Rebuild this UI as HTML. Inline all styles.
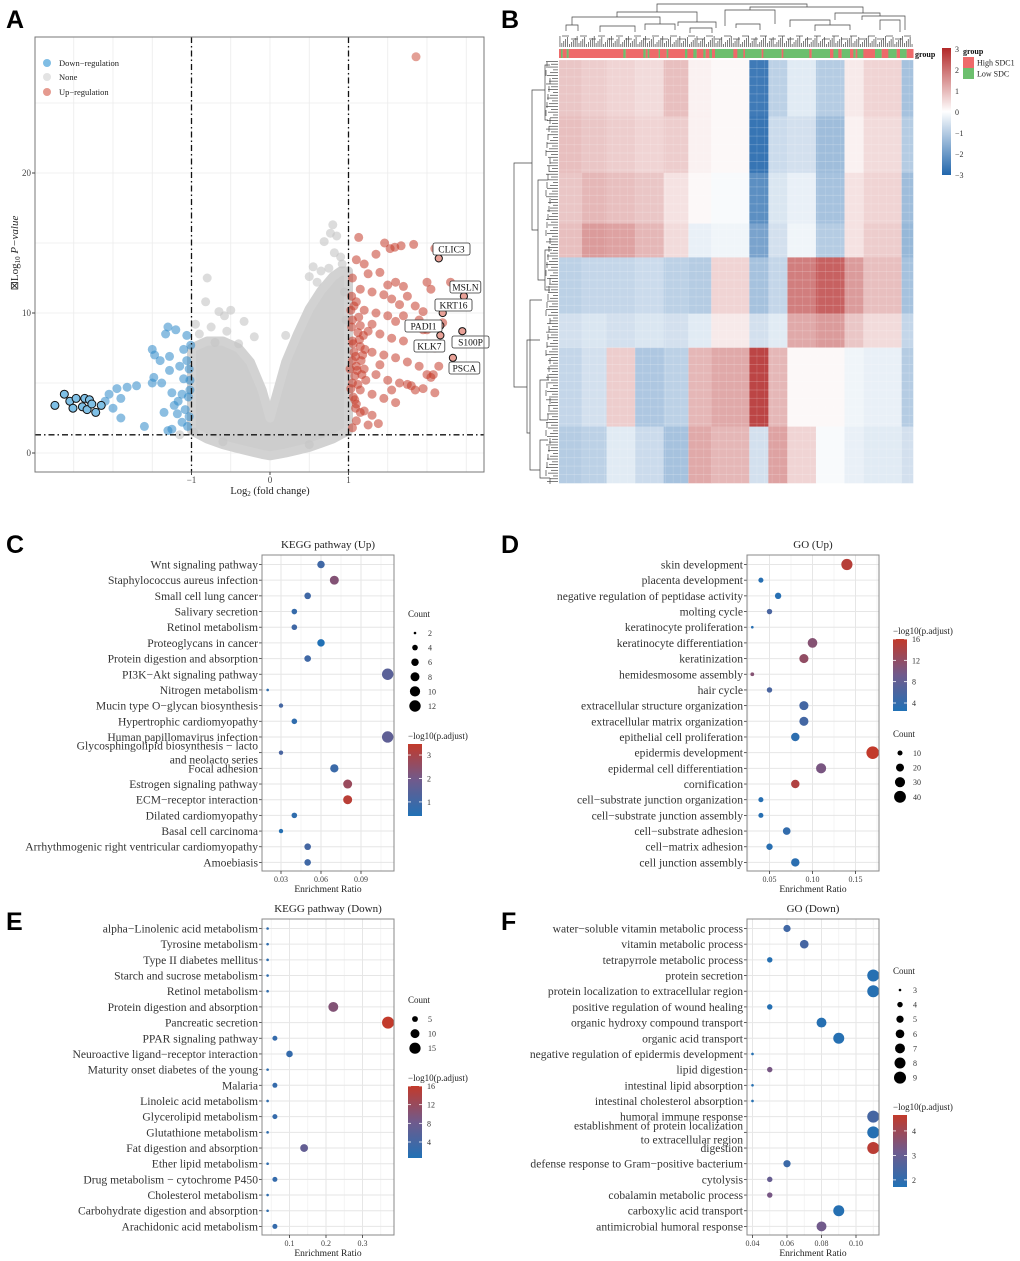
<!DOCTYPE html>
<html><head><meta charset="utf-8">
<style>
html,body{margin:0;padding:0;background:#fff;}
svg{display:block;font-family:"Liberation Serif",serif;}
.pl{font-family:"Liberation Sans",sans-serif;font-weight:bold;font-size:25px;fill:#000;}
</style></head>
<body>
<svg id="fig" width="1020" height="1261" viewBox="0 0 1020 1261" xmlns="http://www.w3.org/2000/svg">
<rect width="1020" height="1261" fill="#fff"/>
<text class="pl" x="6" y="28">A</text>
<text class="pl" x="501" y="28">B</text>
<text class="pl" x="6" y="553">C</text>
<text class="pl" x="501" y="553">D</text>
<text class="pl" x="6" y="930">E</text>
<text class="pl" x="501" y="930">F</text>
<g id="gA"></g>
<g id="gB"></g>
<g id="gC"></g>
<g id="gD"></g>
<g id="gE"></g>
<g id="gF"></g>
</svg>
<script>
// ---------- DATA ----------
const volcRedX=[1.13,1.46,1.59,1.67,1.53,1.35,1.1,1.2,1.25,1.4,1.5,1.6,1.7,1.05,1.15,1.3,1.45,1.55,1.65,1.75,1.85,1.95,2.05,1.1,1.2,1.35,1.5,1.6,1.8,1.9,2.0,1.05,1.15,1.25,1.4,1.55,1.7,1.05,1.15,1.3,1.45,1.6,1.75,1.9,2.15,2.0,1.05,1.2,1.35,1.5,1.65,1.8,1.95,2.1,1.05,1.15,1.3,1.45,1.6,1.1,1.2,1.3,1.1,1.25,1.05,1.38,1.07,1.1,1.08,1.12,1.18,1.22,1.06,1.3,1.4,1.55,1.7,2.0,1.83,2.1,2.3,2.08,1.95,2.2,2.1,1.85,2.05,1.75,1.03,1.04,1.06,1.09,1.11,1.14,1.16,1.03,1.08,1.12,1.17,1.21,1.04,1.07,1.13,1.19,1.02,1.09,1.15,1.86];
const volcRedY=[15.4,15,14.7,14.8,14.6,14.2,13.8,13.5,12.8,12.9,12,12.2,11.9,12.5,11.7,11.5,11.3,11,10.6,11.2,10.5,10.1,11.7,10.8,10.2,10,9.8,9.4,9,9.5,8.8,9.5,9.1,8.7,8.5,8.2,8,8,7.6,7.2,7,6.8,6.5,6.2,6.2,5.6,6.6,6,5.6,5.2,5,4.8,4.6,4.3,5,4.5,4.2,3.9,3.6,3.5,3,2.7,2.3,2,1.8,2.1,7.2,6.2,5.5,8.6,7,5.2,4,9.2,6.3,4.5,9.8,12.2,14.9,14.6,12.2,5.6,8.8,9.3,7.5,4.5,5.4,4.9,10.2,9.0,7.8,6.9,5.9,8.1,6.6,4.6,3.8,4.9,5.6,7.4,11.2,10.5,9.7,8.4,6.0,3.2,2.9,28.3];
const volcBlueX=[-2.1,-2.05,-2,-1.95,-1.9,-1.9,-1.82,-1.7,-1.6,-1.5,-1.5,-1.48,-1.47,-1.4,-1.38,-1.33,-1.3,-1.28,-1.28,-1.25,-1.22,-1.2,-1.18,-1.15,-1.12,-1.1,-1.1,-1.08,-1.06,-1.05,-1.03,-1.02,-1.01,-1.25,-1.17,-1.12,-1.35,-1.3,-1.02,-1.04,-1.06,-1.03];
const volcBlueY=[3.7,4.2,3.2,4.6,2.5,3.9,4.7,4.8,1.9,5,7.4,5.4,7,6.6,5,8.5,9,6.9,5.9,4.3,3.4,8.8,2.8,6.2,4.2,7.4,5.3,3.1,8.4,1.9,6,4.5,7.7,1.7,3.7,2.2,2.9,1.6,5.2,4.0,6.6,2.6];
const volcOutlineX=[-2.74,-2.62,-2.55,-2.51,-2.47,-2.39,-2.36,-2.33,-2.3,-2.27,-2.22,-2.15];
const volcOutlineY=[3.4,4.2,3.7,3.2,3.9,3.3,3.9,3.1,3.8,3.5,2.9,3.4];
const volcGrayX=[-0.8,-0.82,-0.65,-0.58,-0.5,-0.33,-0.95,-0.75,-0.2,-0.4,-0.55,0.2,0.8,0.77,0.69,0.85,0.82,0.9,0.55,0.65,0.75,0.5,0.6,0.92,-0.97,-0.6,0.5,-1.15,-0.9,-0.7,0.95,0.97];
const volcGrayY=[12.5,10.8,10.1,9.8,10.2,9.4,9.2,9,8.3,7.8,8.7,8.4,16.3,15.7,15.1,15.5,14.3,14,13.3,13,13.2,12.6,12.2,13.5,1.5,0.8,0.6,1.3,8.5,7.9,11.5,9.5];
const envX=[-1,-0.8,-0.6,-0.4,-0.25,-0.1,0,0.1,0.2,0.35,0.5,0.65,0.8,0.9,1];
const envTop=[7.5,8.0,8.0,7.5,6.5,4.5,2.5,4.5,6.5,8.5,10.3,11.6,12.6,13.0,13.0];
const envBot=[1.6,1.0,0.6,0.3,0.1,-0.1,-0.2,-0.1,0,0.2,0.4,0.7,1.0,1.3,1.6];
const geneLabels=["CLIC3","MSLN","KRT16","PADI1","KLK7","S100P","PSCA"];
const geneX=[2.15,2.47,2.2,2.17,2.17,2.45,2.33];
const geneY=[13.9,11.2,10.0,9.1,8.4,8.7,6.8];
const geneBoxX=[433,450,435,405,414,452,449];
const geneBoxY=[243,281,299,320,340,336,362];

// heatmap block data
const hmColBounds=[0,12,25,40,55,68,80,100,110,120,135,150,160,180,186];
const hmRowBounds=[0,20,40,58,70,90,102,130,150];
const hmValues=[
 [0.8,0.7,0.6,0.5,0.9,0.2,0.1,-2.6,-0.9,-0.4,-1.0,0.3,0.6,-1.2],
 [0.9,0.8,0.7,0.6,0.7,0.2,0.1,-2.7,-0.7,-0.6,-1.3,0.2,0.5,-1.0],
 [0.8,1.0,0.9,0.8,0.4,0.1,-0.1,-2.2,-0.5,-0.3,-1.2,0.4,0.6,-1.3],
 [0.9,1.4,1.3,1.0,0.5,-0.3,-0.2,-1.8,-0.6,-0.2,-1.0,0.4,0.7,-1.4],
 [-0.9,-0.8,-0.8,-0.7,-0.9,-1.0,0.6,-1.2,-0.8,1.8,2.2,1.4,0.9,-1.2],
 [-0.6,-0.5,-0.6,-0.5,-0.6,-0.4,0.3,-0.6,-0.4,1.2,1.4,0.8,0.5,-0.8],
 [-0.8,-0.6,0.7,-1.1,-0.9,1.0,1.2,2.6,1.0,0.1,0.1,-0.2,-0.3,-1.0],
 [-1.0,-0.9,-0.4,-0.7,-1.2,1.2,1.0,-0.6,1.3,0.6,-0.1,-0.3,-0.4,-0.6]
];
const grpBounds=[177,183,188,200,206,370,377,430,437,443,448,476,480,500,505,555,562,580,590,610,617,628,636,645,700,712,730,735,785,790,845,850,928,935,990,1000,1015,1025,1050,1060,1067,1072,1090,1125,1145,1165,1190,1200,1220,1240];
const hmTicks=[3,2,1,0,-1,-2,-3];

// dot plots
const cLabels=["Wnt signaling pathway","Staphylococcus aureus infection","Small cell lung cancer","Salivary secretion","Retinol metabolism","Proteoglycans in cancer","Protein digestion and absorption","PI3K−Akt signaling pathway","Nitrogen metabolism","Mucin type O−glycan biosynthesis","Hypertrophic cardiomyopathy","Human papillomavirus infection","Glycosphingolipid biosynthesis − lacto|and neolacto series","Focal adhesion","Estrogen signaling pathway","ECM−receptor interaction","Dilated cardiomyopathy","Basal cell carcinoma","Arrhythmogenic right ventricular cardiomyopathy","Amoebiasis"];
const cRatio=[0.06,0.07,0.05,0.04,0.04,0.06,0.05,0.11,0.02,0.03,0.04,0.11,0.03,0.07,0.08,0.08,0.04,0.03,0.05,0.05];
const cCount=[6,8,5,4,4,6,5,12,2,3,4,12,3,7,8,8,4,3,5,5];
const cP=[1.0,2.3,1.0,0.8,1.0,0.4,1.0,1.5,0.7,1.1,0.7,1.6,1.2,0.9,2.7,3.3,0.7,0.5,1.1,1.0];
const cTicks=[0.03,0.06,0.09];
const cSizeTicks=[2,4,6,8,10,12];
const cColorTicks=[3,2,1];

const dLabels=["skin development","placenta development","negative regulation of peptidase activity","molting cycle","keratinocyte proliferation","keratinocyte differentiation","keratinization","hemidesmosome assembly","hair cycle","extracellular structure organization","extracellular matrix organization","epithelial cell proliferation","epidermis development","epidermal cell differentiation","cornification","cell−substrate junction organization","cell−substrate junction assembly","cell−substrate adhesion","cell−matrix adhesion","cell junction assembly"];
const dRatio=[0.14,0.04,0.06,0.05,0.03,0.10,0.09,0.03,0.05,0.09,0.09,0.08,0.17,0.11,0.08,0.04,0.04,0.07,0.05,0.08];
const dCount=[36,10,14,11,5,28,25,7,11,25,25,22,45,30,22,10,10,19,14,22];
const dP=[15,3,3,6,3,11,12,11,6,5.5,5.5,3.5,16,10,14.5,3,3,4,3.2,3.3];
const dTicks=[0.05,0.10,0.15];
const dSizeTicks=[10,20,30,40];
const dColorTicks=[16,12,8,4];

const eLabels=["alpha−Linolenic acid metabolism","Tyrosine metabolism","Type II diabetes mellitus","Starch and sucrose metabolism","Retinol metabolism","Protein digestion and absorption","Pancreatic secretion","PPAR signaling pathway","Neuroactive ligand−receptor interaction","Maturity onset diabetes of the young","Malaria","Linoleic acid metabolism","Glycerolipid metabolism","Glutathione metabolism","Fat digestion and absorption","Ether lipid metabolism","Drug metabolism − cytochrome P450","Cholesterol metabolism","Carbohydrate digestion and absorption","Arachidonic acid metabolism"];
const eRatio=[0.04,0.04,0.04,0.04,0.04,0.22,0.37,0.06,0.10,0.04,0.06,0.04,0.06,0.04,0.14,0.04,0.06,0.04,0.04,0.06];
const eCount=[2,2,2,2,2,12,17,4,6,2,4,2,4,2,8,2,4,2,2,4];
const eP=[2,2,2,2,2,10,16,2.5,2.5,2,2.5,2,2.5,2,7,2,2.5,2,2,2.5];
const eTicks=[0.1,0.2,0.3];
const eSizeTicks=[5,10,15];
const eColorTicks=[16,12,8,4];

const fLabels=["water−soluble vitamin metabolic process","vitamin metabolic process","tetrapyrrole metabolic process","protein secretion","protein localization to extracellular region","positive regulation of wound healing","organic hydroxy compound transport","organic acid transport","negative regulation of epidermis development","lipid digestion","intestinal lipid absorption","intestinal cholesterol absorption","humoral immune response","establishment of protein localization|to extracellular region","digestion","defense response to Gram−positive bacterium","cytolysis","cobalamin metabolic process","carboxylic acid transport","antimicrobial humoral response"];
const fRatio=[0.06,0.07,0.05,0.11,0.11,0.05,0.08,0.09,0.04,0.05,0.04,0.04,0.11,0.11,0.11,0.06,0.05,0.05,0.09,0.08];
const fCount=[5,6,4,9,9,4,7,8,3,4,3,3,9,9,9,5,4,4,8,7];
const fP=[2.3,2.4,1.8,1.8,1.8,1.8,1.8,1.8,1.8,3.3,1.8,1.8,2.4,1.8,4.5,2.2,3.0,3.3,1.8,3.2];
const fTicks=[0.04,0.06,0.08,0.10];
const fSizeTicks=[3,4,5,6,7,8,9];
const fColorTicks=[4,3,2];

// ---------- HELPERS ----------
const NS="http://www.w3.org/2000/svg";
function mk(tag,attrs,parent){const e=document.createElementNS(NS,tag);for(const k in attrs)e.setAttribute(k,attrs[k]);parent.appendChild(e);return e;}
function txt(s,attrs,parent){const e=mk("text",attrs,parent);e.textContent=s;return e;}
function lerp(a,b,t){return a+(b-a)*t;}
function gradColor(t){t=Math.max(0,Math.min(1,t));const A=[33,113,181],M=[112,90,140],B=[194,58,43];let c;
 if(t<0.5){const u=t/0.5;c=A.map((v,i)=>Math.round(lerp(v,M[i],u)));}else{const u=(t-0.5)/0.5;c=M.map((v,i)=>Math.round(lerp(v,B[i],u)));}
 return "rgb("+c.join(",")+")";}
function hmColor(v){const t=Math.max(-3,Math.min(3,v))/3;const W=[255,255,255],Bl=[33,102,172],R=[178,40,40];
 const tgt=t<0?Bl:R;const u=Math.abs(t);return "rgb("+W.map((w,i)=>Math.round(lerp(w,tgt[i],u))).join(",")+")";}

// ---------- PANEL A : volcano ----------
(function(){
 const g=document.getElementById("gA");
 const L=35,R=484,T=37,B=472;
 const xs=v=>270+v*78.5, ys=v=>453-v*14;
 mk("rect",{x:L,y:T,width:R-L,height:B-T,fill:"#fff"},g);
 for(let v=-3;v<=3;v+=0.5){const x=xs(v);if(x<L||x>R)continue;const l=mk("line",{x1:x,x2:x,y1:T,y2:B,stroke:"#ececec","stroke-width":0.8},g);
  
  }
 for(let v=0;v<=30;v+=5){const y=ys(v);if(y<T)continue;const l=mk("line",{x1:L,x2:R,y1:y,y2:y,stroke:"#ececec","stroke-width":0.8},g);
  
  }
 const topPts=envX.map((x,i)=>xs(x)+","+ys(envTop[i]));
 const botPts=envX.map((x,i)=>xs(x)+","+ys(envBot[i])).reverse();
 const env=mk("polygon",{points:topPts.concat(botPts).join(" "),fill:"#cdcdcd",stroke:"#d2d2d2","stroke-width":9,"stroke-linejoin":"round"},g);
 
 
 volcGrayX.forEach((x,i)=>{const c=mk("circle",{cx:xs(x),cy:ys(volcGrayY[i]),r:4.5,fill:"#c4c4c4","fill-opacity":0.6},g);
  
  });
 volcBlueX.forEach((x,i)=>{const c=mk("circle",{cx:xs(x),cy:ys(volcBlueY[i]),r:4.5,fill:"#2e88c9","fill-opacity":0.55},g);
  
  });
 volcOutlineX.forEach((x,i)=>{const c=mk("circle",{cx:xs(x),cy:ys(volcOutlineY[i]),r:4,fill:"#7fc0e6",stroke:"#111","stroke-width":1},g);
  
  });
 volcRedX.forEach((x,i)=>{const last=i==volcRedX.length-1;const c=mk("circle",{cx:xs(x),cy:ys(volcRedY[i]),r:4.5,fill:last?"#e0958a":"#c43d2b","fill-opacity":last?0.9:0.55},g);
  
  });
 geneLabels.forEach((s,i)=>{
  const c=mk("circle",{cx:xs(geneX[i]),cy:ys(geneY[i]),r:3.6,fill:"#e9a197",stroke:"#111","stroke-width":1},g);
  
  
  const w=s.length*6.2+6;
  const r=mk("rect",{x:geneBoxX[i],y:geneBoxY[i],width:w,height:12,rx:2,fill:"#fff",stroke:"#333","stroke-width":0.8},g);
  
  
  const t=txt(s,{x:geneBoxX[i]+w/2,y:geneBoxY[i]+9.5,"font-size":9.5,"text-anchor":"middle",fill:"#111"},g);
  
  });
 [[xs(-1),T,xs(-1),B],[xs(1),T,xs(1),B],[L,ys(1.3),R,ys(1.3)]].forEach(a=>{const l=mk("line",{x1:a[0],y1:a[1],x2:a[2],y2:a[3],stroke:"#111","stroke-width":1.3,"stroke-dasharray":"6,3,1.5,3"},g);
  
  });
 mk("rect",{x:L,y:T,width:R-L,height:B-T,fill:"none",stroke:"#777","stroke-width":1},g);
 [-1,0,1].forEach(v=>{mk("line",{x1:xs(v),x2:xs(v),y1:B,y2:B+3,stroke:"#444"},g);
  const t=txt(v==-1?"−1":String(v),{x:xs(v),y:B+11,"font-size":9,"text-anchor":"middle",fill:"#444"},g);
  
  });
 [0,10,20].forEach(v=>{mk("line",{x1:L-3,x2:L,y1:ys(v),y2:ys(v),stroke:"#444"},g);
  const t=txt(String(v),{x:L-4,y:ys(v)+3,"font-size":9,"text-anchor":"end",fill:"#444"},g);
  
  });
 const xt=txt("",{x:270,y:494,"font-size":10.5,"text-anchor":"middle",fill:"#222"},g);
 xt.innerHTML='Log<tspan font-size="7" dy="2">2</tspan><tspan dy="-2"> (fold change)</tspan>';
 
 
 const yt=txt("",{transform:"translate(18,253) rotate(-90)","font-size":11,"text-anchor":"middle",fill:"#222"},g);
 yt.innerHTML='⊠Log<tspan font-size="7" dy="2">10</tspan><tspan dy="-2" font-style="italic"> P−value</tspan>';
 
 
 const lg=[["Down−regulation","#7fbde4",63],["None","#e3e3e3",77],["Up−regulation","#e59a8f",92]];
 lg.forEach(a=>{const c=mk("circle",{cx:47,cy:a[2],r:4,fill:a[1]},g);
  
  
  const t=txt(a[0],{x:59,y:a[2]+3,"font-size":8.5,fill:"#222"},g);
  
  });
})();

// ---------- PANEL B : heatmap ----------
(function(){
 const g=document.getElementById("gB");
 const X0=559,X1=913,Y0=60,Y1=483;
 const nc=hmColBounds[hmColBounds.length-1], nr=hmRowBounds[hmRowBounds.length-1];
 const cx=i=>X0+(X1-X0)*i/nc, ry=j=>Y0+(Y1-Y0)*j/nr;
 for(let r=0;r<hmValues.length;r++)for(let c=0;c<hmValues[r].length;c++){
  const x=cx(hmColBounds[c]),y=ry(hmRowBounds[r]);
  const cell=mk("rect",{x:x,y:y,width:cx(hmColBounds[c+1])-x+0.3,height:ry(hmRowBounds[r+1])-y+0.3,fill:hmColor(hmValues[r][c])},g);
  
  }
 for(let j=0;j<nr;j+=3){const l=mk("line",{x1:X0,x2:X1,y1:ry(j),y2:ry(j),stroke:"#fff","stroke-opacity":0.18,"stroke-width":1},g);
  
  }
 for(let i=0;i<nc;i+=4){const l=mk("line",{x1:cx(i),x2:cx(i),y1:Y0,y2:Y1,stroke:"#fff","stroke-opacity":0.15,"stroke-width":0.8},g);
  
  }
 for(let k=0;k<grpBounds.length-1;k++){
  const xa=500+grpBounds[k]/3, xb=500+grpBounds[k+1]/3;
  const r=mk("rect",{x:xa,y:49,width:xb-xa+0.2,height:9,fill:k%2==0?"#ee6a6a":"#6cbf6e"},g);
  
  }
 const gl=txt("group",{x:915,y:57,"font-size":8,"font-weight":"bold",fill:"#111"},g);
 
 
 const dg=mk("g",{stroke:"#444","stroke-width":0.7,fill:"none"},g);
 
 
 for(let i=0;i<nc;i++){const x=cx(i+0.5);mk("line",{x1:x,x2:x,y1:47,y2:36+((i*7)%9)},dg);}
 const merges=[[657,807,4,12,7],[617,697,12,17,22],[750,863,7,10,13],[572,660,17,25,24],[678,716,22,26,28],[725,775,10,26,24],[835,880,13,20,16],[862,905,16,20,30],[566,578,25,31,31],[645,675,24,30,30],[736,760,24,28,30],[790,830,20,27,25],[815,850,25,31,30],[600,635,26,32,32],[690,712,28,33,33],[880,900,20,30,32]];
 merges.forEach(m=>{mk("path",{d:`M${m[0]},${m[3]}V${m[2]}H${m[1]}V${m[4]}`},dg);});
 for(let x=562;x<910;x+=9){mk("line",{x1:x,x2:x+7,y1:36+((x*3)%6),y2:36+((x*3)%6)},dg);}
 const lg=mk("g",{stroke:"#444","stroke-width":0.7,fill:"none"},g);
 
 
 for(let j=0;j<nr;j++){const y=ry(j+0.5);mk("line",{x1:558,x2:546+((j*5)%8),y1:y,y2:y},lg);}
 const lm=[[163,387,514,532,527],[90,230,532,545,538],[340,433,527,540,530],[300,470,530,542,540],[65,120,545,550,548],[180,280,538,548,545],[250,290,545,552,550],[380,420,540,549,548],[440,478,540,548,550]];
 lm.forEach(m=>{mk("path",{d:`M${m[3]},${m[0]}H${m[2]}V${m[1]}H${m[4]}`},lg);});
 for(let y=62;y<482;y+=8){mk("line",{x1:546+((y*3)%5),x2:546+((y*3)%5),y1:y,y2:y+6},lg);}
 const defs=mk("defs",{},g);
 const lgd=mk("linearGradient",{id:"hmg",x1:0,y1:0,x2:0,y2:1},defs);
 [[0,"#b22828"],[0.5,"#ffffff"],[1,"#2166ac"]].forEach(s=>mk("stop",{offset:s[0],"stop-color":s[1]},lgd));
 const cb=mk("rect",{x:942,y:48,width:9,height:127,fill:"url(#hmg)"},g);
 
 
 hmTicks.forEach(v=>{const t=txt(v<0?"−"+(-v):String(v),{x:955,y:112-v*21+3,"font-size":8,fill:"#333"},g);
  
  });
 const gt=txt("group",{x:963,y:54,"font-size":8,"font-weight":"bold",fill:"#111"},g);
 
 
 [["High SDC1","#ee6a6a",57],["Low SDC","#6cbf6e",68]].forEach(a=>{
  const r=mk("rect",{x:963,y:a[2],width:11,height:11,fill:a[1]},g);
  
  
  const t=txt(a[0],{x:977,y:a[2]+8.5,"font-size":8,fill:"#222"},g);
  
  });
})();

// ---------- DOT PLOTS ----------
function dotPlot(cfg){
 const g=document.getElementById(cfg.id);
 const L=cfg.L,R=L+132,T=cfg.T,B=T+316;
 const xs=v=>cfg.x0+v*cfg.k;
 const ys=i=>T+9.5+i*15.68;
 const rad=c=>Math.sqrt(1.69+(cfg.rmax*cfg.rmax-1.69)*(c-cfg.cmin)/(cfg.cmax-cfg.cmin));
 const col=p=>gradColor((p-cfg.pmin)/(cfg.pmax-cfg.pmin));
 mk("rect",{x:L,y:T,width:132,height:316,fill:"#fff"},g);
 for(let i=0;i<cfg.ticks.length;i++){
  const x=xs(cfg.ticks[i]);
  const l=mk("line",{x1:x,x2:x,y1:T,y2:B,stroke:"#e6e6e6","stroke-width":1},g);
  
  
  if(i>0){const xm=xs((cfg.ticks[i]+cfg.ticks[i-1])/2);mk("line",{x1:xm,x2:xm,y1:T,y2:B,stroke:"#f2f2f2","stroke-width":0.8},g);}
 }
 const step=cfg.ticks[1]-cfg.ticks[0];
 [cfg.ticks[0]-step/2,cfg.ticks[cfg.ticks.length-1]+step/2].forEach(v=>{const x=xs(v);if(x>L&&x<R)mk("line",{x1:x,x2:x,y1:T,y2:B,stroke:"#f2f2f2","stroke-width":0.8},g);});
 cfg.labels.forEach((s,i)=>{
  const y=ys(i);
  const l=mk("line",{x1:L,x2:R,y1:y,y2:y,stroke:"#e6e6e6","stroke-width":1},g);
  
  
  mk("line",{x1:L-3,x2:L,y1:y,y2:y,stroke:"#333","stroke-width":0.8},g);
  const parts=s.split("|");
  parts.forEach((p,k)=>{
   const t=txt(p,{x:L-4,y:parts.length==1?y+4:(k==0?y-3:y+11),"font-size":11.6,"text-anchor":"end",fill:"#333"},g);
   
   });
 });
 cfg.labels.forEach((s,i)=>{
  const c=mk("circle",{cx:xs(cfg.ratio[i]),cy:ys(i),r:rad(cfg.count[i]),fill:col(cfg.p[i])},g);
  
  });
 mk("rect",{x:L,y:T,width:132,height:316,fill:"none",stroke:"#888","stroke-width":1},g);
 cfg.ticks.forEach(v=>{const x=xs(v);mk("line",{x1:x,x2:x,y1:B,y2:B+3,stroke:"#333","stroke-width":0.8},g);
  const t=txt(cfg.fmt(v),{x:x,y:B+11,"font-size":8,"text-anchor":"middle",fill:"#444"},g);
  
  });
 const xt=txt("Enrichment Ratio",{x:L+66,y:B+21,"font-size":9.5,"text-anchor":"middle",fill:"#222"},g);
 
 
 const tt=txt(cfg.title,{x:L+66,y:T-7,"font-size":11,"text-anchor":"middle",fill:"#222"},g);
 
 
 const st=txt("Count",{x:cfg.lgX,y:cfg.sizeTitleY,"font-size":9,fill:"#222"},g);
 
 
 cfg.sizeTicks.forEach((v,i)=>{const y=cfg.sizeTitleY+16+i*14.6;
  const c=mk("circle",{cx:cfg.lgX+7,cy:y,r:rad(v),fill:"#000"},g);
  
  
  const t=txt(String(v),{x:cfg.lgX+20,y:y+3,"font-size":8,fill:"#333"},g);
  
  });
 const ct=txt("−log10(p.adjust)",{x:cfg.lgX,y:cfg.cbTop-5,"font-size":9,fill:"#222"},g);
 
 
 const defs=mk("defs",{},g);
 const gr=mk("linearGradient",{id:cfg.id+"grad",x1:0,y1:1,x2:0,y2:0},defs);
 for(let k=0;k<=10;k++)mk("stop",{offset:k/10,"stop-color":gradColor(k/10)},gr);
 const cb=mk("rect",{x:cfg.lgX,y:cfg.cbTop,width:14,height:72,fill:"url(#"+cfg.id+"grad)"},g);
 
 
 cfg.colorTicks.forEach(v=>{const y=cfg.cbTop+72*(cfg.pmax-v)/(cfg.pmax-cfg.pmin);
  mk("line",{x1:cfg.lgX,x2:cfg.lgX+3,y1:y,y2:y,stroke:"#fff","stroke-width":0.8},g);
  mk("line",{x1:cfg.lgX+11,x2:cfg.lgX+14,y1:y,y2:y,stroke:"#fff","stroke-width":0.8},g);
  const t=txt(String(v),{x:cfg.lgX+19,y:y+3,"font-size":8,fill:"#333"},g);
  
  });
}
const f2=v=>v.toFixed(2), f1=v=>v.toFixed(1);
dotPlot({id:"gC",L:262,T:555,x0:241,k:1333.3,ticks:cTicks,fmt:f2,title:"KEGG pathway (Up)",labels:cLabels,ratio:cRatio,count:cCount,p:cP,cmin:2,cmax:12,rmax:5.7,pmin:0.4,pmax:3.47,lgX:408,sizeTitleY:617,sizeTicks:cSizeTicks,cbTop:744,colorTicks:cColorTicks});
dotPlot({id:"gD",L:747,T:555,x0:726.5,k:860,ticks:dTicks,fmt:f2,title:"GO (Up)",labels:dLabels,ratio:dRatio,count:dCount,p:dP,cmin:5,cmax:45,rmax:6.3,pmin:2.5,pmax:16,lgX:893,sizeTitleY:737,sizeTicks:dSizeTicks,cbTop:639,colorTicks:dColorTicks});
dotPlot({id:"gE",L:262,T:919,x0:253,k:365,ticks:eTicks,fmt:f1,title:"KEGG pathway (Down)",labels:eLabels,ratio:eRatio,count:eCount,p:eP,cmin:2,cmax:17,rmax:6,pmin:0.57,pmax:16,lgX:408,sizeTitleY:1003,sizeTicks:eSizeTicks,cbTop:1086,colorTicks:eColorTicks});
dotPlot({id:"gF",L:747,T:919,x0:683.5,k:1725,ticks:fTicks,fmt:f2,title:"GO (Down)",labels:fLabels,ratio:fRatio,count:fCount,p:fP,cmin:3,cmax:9,rmax:6,pmin:1.71,pmax:4.65,lgX:893,sizeTitleY:974,sizeTicks:fSizeTicks,cbTop:1115,colorTicks:fColorTicks});
</script>
</body></html>
